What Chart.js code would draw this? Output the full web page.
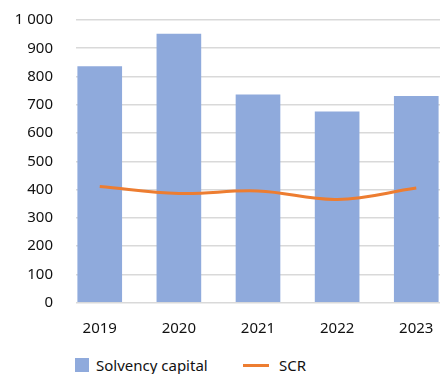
<!DOCTYPE html>
<html lang="en">
<head>
  <meta charset="UTF-8">
  <title>Solvency capital and SCR</title>
  <script src="https://cdn.jsdelivr.net/npm/chart.js"></script>
  <style>
    body {
      margin: 0;
      background: #fff;
      font-family: "Noto Sans", sans-serif;
    }
    .wrap {
      position: relative;
      width: 440px;
      height: 374px;
      overflow: hidden;
    }
    canvas {
      position: absolute;
      left: 0;
      top: -12px;
    }
    .legend {
      position: absolute;
      top: 356px;
      left: 75px;
      font-size: 15px;
      color: #111;
      line-height: 18px;
    }
    .item {
      position: absolute;
      top: 0;
      white-space: nowrap;
    }
    .box {
      position: absolute;
      width: 14px;
      height: 14px;
      top: 2px;
      background: #8faadc;
    }
    .line {
      position: absolute;
      width: 26px;
      height: 3px;
      top: 8px;
      background: #ed7d31;
    }
  </style>
</head>
<body>
  <div class="wrap">
    <canvas id="chart" width="440" height="357"></canvas>
    <div class="legend">
      <div class="item" style="left:0"><span class="box"></span><span style="margin-left:21px">Solvency capital</span></div>
      <div class="item" style="left:168px"><span class="line"></span><span style="margin-left:36px">SCR</span></div>
    </div>
  </div>
  <script>
    const years = [2019, 2020, 2021, 2022, 2023];
    const solvencyCapital = [835, 950, 735, 675, 730];
    const scr = [411, 386, 395, 365, 405];
    const yTicks = [0, 100, 200, 300, 400, 500, 600, 700, 800, 900, 1000];

    function fmt(v) {
      return String(v).replace(/\B(?=(\d{3})+$)/g, ' ');
    }

    const ctx = document.getElementById('chart').getContext('2d');
    new Chart(ctx, {
      type: 'bar',
      data: {
        datasets: [
          {
            type: 'line',
            label: 'SCR',
            data: years.map((y, i) => ({ x: y, y: scr[i] })),
            borderColor: '#ed7d31',
            borderWidth: 3,
            pointRadius: 0,
            tension: 0.4,
            order: 0
          },
          {
            label: 'Solvency capital',
            data: years.map((y, i) => ({ x: y, y: solvencyCapital[i] })),
            backgroundColor: '#8faadc',
            barThickness: 44,
            order: 1
          }
        ]
      },
      options: {
        responsive: false,
        animation: false,
        layout: { padding: { top: 7, right: 0, left: 0, bottom: 0 } },
        plugins: {
          legend: { display: false },
          tooltip: { enabled: false }
        },
        scales: {
          x: {
            type: 'linear',
            offset: false,
            min: 2018.7,
            max: 2023.3,
            grid: { display: false },
            border: { display: false },
            afterBuildTicks: s => { s.ticks = years.map(v => ({ value: v })); },
            afterFit: s => { s.height = 42.5; s.paddingLeft = 0; s.paddingRight = 0; },
            ticks: {
              padding: 9,
              color: '#111',
              font: { family: 'Noto Sans', size: 15 },
              callback: v => String(v)
            }
          },
          y: {
            min: 0,
            max: 1000,
            grid: { color: '#d9d9d9', lineWidth: 1.5, drawTicks: false },
            border: { display: false },
            afterBuildTicks: s => { s.ticks = yTicks.map(v => ({ value: v })); },
            afterFit: s => { s.width = 76; },
            ticks: {
              padding: 23,
              color: '#111',
              font: { family: 'Noto Sans', size: 15 },
              callback: v => fmt(v)
            }
          }
        }
      }
    });
  </script>
</body>
</html>
